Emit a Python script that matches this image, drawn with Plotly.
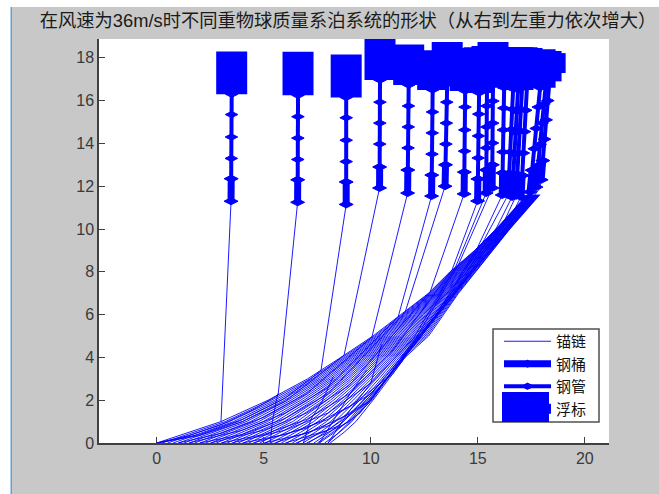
import plotly.graph_objects as go

TITLE = "在风速为36m/s时不同重物球质量系泊系统的形状（从右到左重力依次增大）"
LABEL_CHAIN, LABEL_BARREL, LABEL_PIPE, LABEL_BUOY = "锚链", "钢桶", "钢管", "浮标"
X_TICKS = [0, 5, 10, 15, 20]
Y_TICKS = [0, 2, 4, 6, 8, 10, 12, 14, 16, 18]

# anchor-chain family: x read at each of these depths
mesh_y = [0, 0.5, 1, 2, 3, 4, 5, 6, 7, 8, 9, 10, 11.6]
mesh_x = [
    [0.0, 1.5, 3.0, 5.2, 7.05, 8.6, 10.1, 11.4, 12.7, 13.7, 14.85, 15.85, 17.3],
    [0.25, 1.73, 3.2, 5.35, 7.17, 8.69, 10.18, 11.46, 12.74, 13.74, 14.88, 15.87, 17.32],
    [0.5, 1.95, 3.39, 5.51, 7.29, 8.79, 10.26, 11.53, 12.79, 13.78, 14.9, 15.89, 17.34],
    [0.76, 2.18, 3.59, 5.66, 7.41, 8.88, 10.34, 11.59, 12.83, 13.81, 14.93, 15.91, 17.36],
    [1.01, 2.41, 3.79, 5.81, 7.53, 8.98, 10.43, 11.65, 12.88, 13.85, 14.96, 15.93, 17.38],
    [1.27, 2.64, 3.99, 5.97, 7.65, 9.07, 10.51, 11.71, 12.92, 13.89, 14.98, 15.95, 17.39],
    [1.52, 2.86, 4.18, 6.12, 7.76, 9.16, 10.59, 11.78, 12.96, 13.93, 15.01, 15.97, 17.41],
    [1.77, 3.09, 4.38, 6.27, 7.88, 9.26, 10.67, 11.84, 13.01, 13.97, 15.04, 15.99, 17.43],
    [2.02, 3.32, 4.58, 6.42, 8.0, 9.35, 10.75, 11.9, 13.05, 14.0, 15.06, 16.01, 17.45],
    [2.28, 3.54, 4.77, 6.58, 8.12, 9.45, 10.83, 11.96, 13.1, 14.04, 15.09, 16.03, 17.47],
    [2.53, 3.77, 4.97, 6.73, 8.24, 9.54, 10.91, 12.03, 13.14, 14.08, 15.12, 16.05, 17.49],
    [2.78, 4.0, 5.17, 6.88, 8.36, 9.63, 10.99, 12.09, 13.18, 14.12, 15.14, 16.07, 17.51],
    [3.04, 4.22, 5.36, 7.04, 8.48, 9.73, 11.08, 12.15, 13.23, 14.16, 15.17, 16.09, 17.53],
    [3.29, 4.45, 5.56, 7.19, 8.6, 9.82, 11.16, 12.21, 13.27, 14.19, 15.2, 16.11, 17.54],
    [3.54, 4.68, 5.76, 7.34, 8.72, 9.92, 11.24, 12.28, 13.32, 14.23, 15.22, 16.13, 17.56],
    [3.8, 4.91, 5.96, 7.5, 8.84, 10.01, 11.32, 12.34, 13.36, 14.27, 15.25, 16.15, 17.58],
    [4.05, 5.13, 6.15, 7.65, 8.95, 10.1, 11.4, 12.4, 13.4, 14.3, 15.28, 16.18, 17.6],
    [4.3, 5.36, 6.35, 7.8, 9.07, 10.2, 11.48, 12.46, 13.45, 14.35, 15.3, 16.2, 17.62],
    [4.55, 5.59, 6.55, 7.95, 9.19, 10.29, 11.56, 12.53, 13.49, 14.38, 15.33, 16.22, 17.64],
    [4.81, 5.81, 6.74, 8.11, 9.31, 10.39, 11.64, 12.59, 13.54, 14.42, 15.36, 16.24, 17.66],
    [5.06, 6.04, 6.94, 8.26, 9.43, 10.48, 11.73, 12.65, 13.58, 14.46, 15.38, 16.26, 17.68],
    [5.31, 6.27, 7.14, 8.41, 9.55, 10.57, 11.81, 12.71, 13.62, 14.5, 15.41, 16.28, 17.69],
    [5.57, 6.49, 7.33, 8.57, 9.67, 10.67, 11.89, 12.78, 13.67, 14.54, 15.44, 16.3, 17.71],
    [5.82, 6.72, 7.53, 8.72, 9.79, 10.76, 11.97, 12.84, 13.71, 14.57, 15.46, 16.32, 17.73],
    [6.07, 6.95, 7.73, 8.87, 9.91, 10.86, 12.05, 12.9, 13.76, 14.61, 15.49, 16.34, 17.75],
    [6.33, 7.18, 7.93, 9.03, 10.03, 10.95, 12.13, 12.96, 13.8, 14.65, 15.52, 16.36, 17.77],
    [6.58, 7.4, 8.12, 9.18, 10.14, 11.04, 12.21, 13.03, 13.84, 14.69, 15.54, 16.38, 17.79],
    [6.83, 7.63, 8.32, 9.33, 10.26, 11.14, 12.29, 13.09, 13.89, 14.73, 15.57, 16.4, 17.81],
    [7.08, 7.86, 8.52, 9.48, 10.38, 11.23, 12.38, 13.15, 13.93, 14.76, 15.6, 16.42, 17.83],
    [7.34, 8.08, 8.71, 9.64, 10.5, 11.33, 12.46, 13.21, 13.98, 14.8, 15.62, 16.44, 17.84],
    [7.59, 8.31, 8.91, 9.79, 10.62, 11.42, 12.54, 13.28, 14.02, 14.84, 15.65, 16.46, 17.86],
    [7.84, 8.54, 9.11, 9.94, 10.74, 11.51, 12.62, 13.34, 14.06, 14.88, 15.67, 16.48, 17.88],
    [8.1, 8.75, 9.3, 10.1, 10.85, 11.6, 12.7, 13.4, 14.1, 14.9, 15.7, 16.5, 17.9],
]
# sagging chains that cross the family and end at a kink
sag_x = [
    [0, 1.5, 3, 4.5, 5.67], [0, 2, 4, 6, 7.67], [0, 2, 4, 6, 8.75], [1, 3, 5, 7, 10.05],
    [1.5, 4, 6, 8, 11.28], [2, 4, 6, 8, 11.6], [2.5, 5, 7, 9, 12.77], [3, 5, 7, 9, 11, 13.8],
    [3.5, 6, 8, 10, 12, 13.95], [4, 6, 8, 10, 12, 14.08], [4.5, 7, 9, 11, 13, 14.97],
    [5, 7, 9, 11, 13, 15.3], [5.5, 8, 10, 12, 14, 15.9], [6, 8, 10, 12, 14, 16.25],
    [6.5, 8.5, 10.5, 12.5, 14.5, 16.6], [7, 9, 11, 13, 15, 17.2],
    [7.5, 9.5, 11.5, 13.5, 15.5, 17.5], [8, 10, 12, 14, 16, 17.9],
]
sag_y = [
    [0, 0.35, 0.85, 1.55, 2.24], [0, 0.4, 1.1, 2.1, 3.37], [0, 0.35, 1.0, 1.95, 4.1], [0, 0.45, 1.2, 2.3, 4.95],
    [0, 0.6, 1.4, 2.6, 5.9], [0, 0.4, 1.15, 2.3, 6.1], [0, 0.6, 1.4, 2.7, 7.05], [0, 0.4, 1.1, 2.3, 4.3, 8.1],
    [0, 0.6, 1.4, 2.8, 4.9, 8.2], [0, 0.4, 1.1, 2.3, 4.7, 8.3], [0, 0.7, 1.7, 3.2, 5.9, 9.1],
    [0, 0.45, 1.35, 3.3, 5.8, 9.5], [0, 0.8, 2.0, 4.8, 7.3, 10.1], [0, 0.6, 2.0, 4.7, 7.2, 10.4],
    [0, 0.8, 2.7, 5.3, 7.8, 10.7], [0, 1.0, 3.3, 5.8, 8.4, 11.2],
    [0, 1.4, 3.95, 6.4, 8.9, 11.6], [0, 1.95, 4.65, 7.15, 9.45, 11.9],
]
# short steep chain pieces crossing the family near the seabed
stray_x = [[5.3, 5.4, 5.65], [6.85, 7.2, 7.7, 8.25], [7.6, 8.4, 9.1, 9.8], [8.0, 9.0, 10.0, 10.5]]
stray_y = [[0, 1.0, 2.3], [0, 1.1, 1.9, 3.1], [0, 1.3, 2.4, 3.4], [0, 1.5, 2.8, 4.6]]

# per system, listed from the leftmost column to the rightmost
kink_x = [3.0, 5.67, 7.67, 8.75, 10.05, 11.28, 11.6, 12.77, 13.8, 13.95, 14.08, 14.97, 15.3, 15.9, 16.25, 16.6, 17.2, 17.5, 17.9]
kink_y = [1.0, 2.24, 3.37, 4.1, 4.95, 5.9, 6.1, 7.05, 8.1, 8.2, 8.3, 9.1, 9.5, 10.1, 10.4, 10.7, 11.2, 11.6, 11.9]
bottom_x = [3.47, 6.58, 8.85, 10.41, 11.72, 12.84, 13.47, 14.36, 14.99, 15.39, 15.67, 16.14, 16.42, 16.6, 16.79, 17.02, 17.44, 17.72, 17.96]
top_x = [3.5, 6.6, 8.85, 10.43, 11.77, 12.89, 13.57, 14.41, 15.06, 15.43, 15.71, 16.23, 16.65, 16.88, 17.07, 17.3, 17.91, 18.19, 18.38]
# barrel bottom, barrel top, then the pipe joints up to the buoy
node_y = [
    [11.3, 12.35, 13.3, 14.3, 15.35, 16.3],
    [11.25, 12.3, 13.25, 14.25, 15.25, 16.25],
    [11.15, 12.2, 13.15, 14.15, 15.2, 16.15],
    [11.92, 12.9, 13.97, 14.95, 15.93, 16.96],
    [11.68, 12.76, 13.79, 14.77, 15.75, 16.73],
    [11.54, 12.52, 13.5, 14.49, 15.47, 16.5],
    [12.0, 13.0, 13.97, 14.95, 15.93, 16.78],
    [11.64, 12.66, 13.64, 14.63, 15.7, 16.45],
    [11.31, 12.34, 13.32, 14.35, 15.37, 16.36],
    [11.68, 12.76, 13.79, 14.77, 15.75, 16.7],
    [11.92, 13.0, 14.02, 14.95, 15.98, 16.9],
    [11.59, 12.62, 13.6, 14.63, 15.65, 16.6],
    [11.6, 12.6, 13.6, 14.65, 15.6, 16.55],
    [11.5, 12.55, 13.5, 14.5, 15.5, 16.5],
    [11.55, 12.55, 13.55, 14.6, 15.6, 16.6],
    [11.5, 12.5, 13.55, 14.55, 15.55, 16.7],
    [11.73, 12.75, 13.75, 14.7, 15.7, 16.6],
    [11.96, 12.95, 13.95, 14.95, 15.85, 16.9],
    [12.3, 13.2, 14.2, 15.1, 16.0, 17.29],
]
buoy_top = [18.3, 18.28, 18.15, 18.92, 18.62, 18.36, 18.74, 18.46, 18.5, 18.55, 18.74, 18.5, 18.5, 18.5, 18.5, 18.46, 18.4, 18.32, 18.22]

BLUE = "#0000ff"
chain_xs, chain_ys = [], []
for row in mesh_x:
    chain_xs += row + [None]
    chain_ys += mesh_y + [None]
for xs, ys in list(zip(sag_x, sag_y)) + list(zip(stray_x, stray_y)):
    chain_xs += xs + [None]
    chain_ys += ys + [None]
barrel_xs, barrel_ys, pipe_xs, pipe_ys, buoy_xs, buoy_ys = [], [], [], [], [], []
for i in range(len(top_x)):
    n = node_y[i]
    chain_xs += [kink_x[i], bottom_x[i], None]
    chain_ys += [kink_y[i], n[0], None]
    span = n[5] - n[0]
    node_x = [bottom_x[i] + (top_x[i] - bottom_x[i]) * (v - n[0]) / span for v in n]
    barrel_xs += node_x[:2] + [None]
    barrel_ys += n[:2] + [None]
    pipe_xs += node_x[1:] + [None]
    pipe_ys += n[1:] + [None]
    buoy_xs += [top_x[i], top_x[i], None]
    buoy_ys += [n[5], buoy_top[i], None]

fig = go.Figure()
fig.add_trace(go.Scatter(x=chain_xs, y=chain_ys, name=LABEL_CHAIN, mode="lines",
                         line=dict(color=BLUE, width=0.9)))
fig.add_trace(go.Scatter(x=barrel_xs, y=barrel_ys, name=LABEL_BARREL, mode="lines+markers",
                         line=dict(color=BLUE, width=7),
                         marker=dict(color=BLUE, symbol="diamond-wide", size=10,
                                     line=dict(color=BLUE, width=1))))
fig.add_trace(go.Scatter(x=pipe_xs, y=pipe_ys, name=LABEL_PIPE, mode="lines+markers",
                         line=dict(color=BLUE, width=4),
                         marker=dict(color=BLUE, symbol="diamond-wide", size=9,
                                     line=dict(color=BLUE, width=1))))
fig.add_trace(go.Scatter(x=buoy_xs, y=buoy_ys, name=LABEL_BUOY, mode="lines",
                         line=dict(color=BLUE, width=31), cliponaxis=False))

W, H, L, R, T, B = 659, 494, 99, 50, 39, 51
PW, PH = W - L - R, H - T - B
def px(v):
    return (v - L) / PW
def py(v):
    return 1 - (v - T) / PH

FONT = "Liberation Sans, Noto Sans CJK SC, sans-serif"
axis = dict(showgrid=False, zeroline=False, showline=True, linecolor="#404040", linewidth=1.5,
            ticks="inside", ticklen=6, tickcolor="#404040", tickwidth=1,
            tickfont=dict(family="Liberation Sans", size=16, color="#3a3a3a"))
fig.update_layout(
    width=W, height=H, autosize=False,
    margin=dict(l=L, r=R, t=T, b=B, pad=0),
    paper_bgcolor="#c8c8c8", plot_bgcolor="#ffffff",
    title=dict(text=TITLE, x=348 / W, xanchor="center", y=1 - 21 / H, yanchor="middle",
               font=dict(family=FONT, size=18.3, color="#1a1a1a")),
    xaxis=dict(range=[-2.7, 21.13], tickvals=X_TICKS, **axis),
    yaxis=dict(range=[0, 18.88], tickvals=Y_TICKS, **axis),
    legend=dict(x=px(499), xanchor="left", y=py(325), yanchor="top",
                bgcolor="rgba(0,0,0,0)", borderwidth=0,
                font=dict(family=FONT, size=15, color="#111111"),
                itemwidth=47, itemclick=False, tracegroupgap=0),
    shapes=[
        dict(type="rect", xref="paper", yref="paper", layer="below",
             x0=px(0), x1=px(11), y0=py(H), y1=py(0), fillcolor="#ffffff", line_width=0),
        dict(type="rect", xref="paper", yref="paper", layer="below",
             x0=px(0), x1=px(W), y0=py(7), y1=py(0), fillcolor="#ffffff", line_width=0),
        dict(type="rect", xref="paper", yref="paper", layer="below",
             x0=px(10.5), x1=px(12), y0=py(H), y1=py(7), fillcolor="#5aa3e0", line_width=0),
        dict(type="rect", xref="paper", yref="paper", layer="above",
             x0=px(493), x1=px(599), y0=py(422), y1=py(329), fillcolor="#ffffff",
             line=dict(color="#505050", width=1.5)),
        dict(type="rect", xref="paper", yref="paper", layer="above",
             x0=px(502), x1=px(549), y0=py(422), y1=py(392), fillcolor=BLUE, line_width=0),
    ],
)

fig.write_html("out.html", config={"displayModeBar": False},
               post_script="document.body.style.margin='0';")
